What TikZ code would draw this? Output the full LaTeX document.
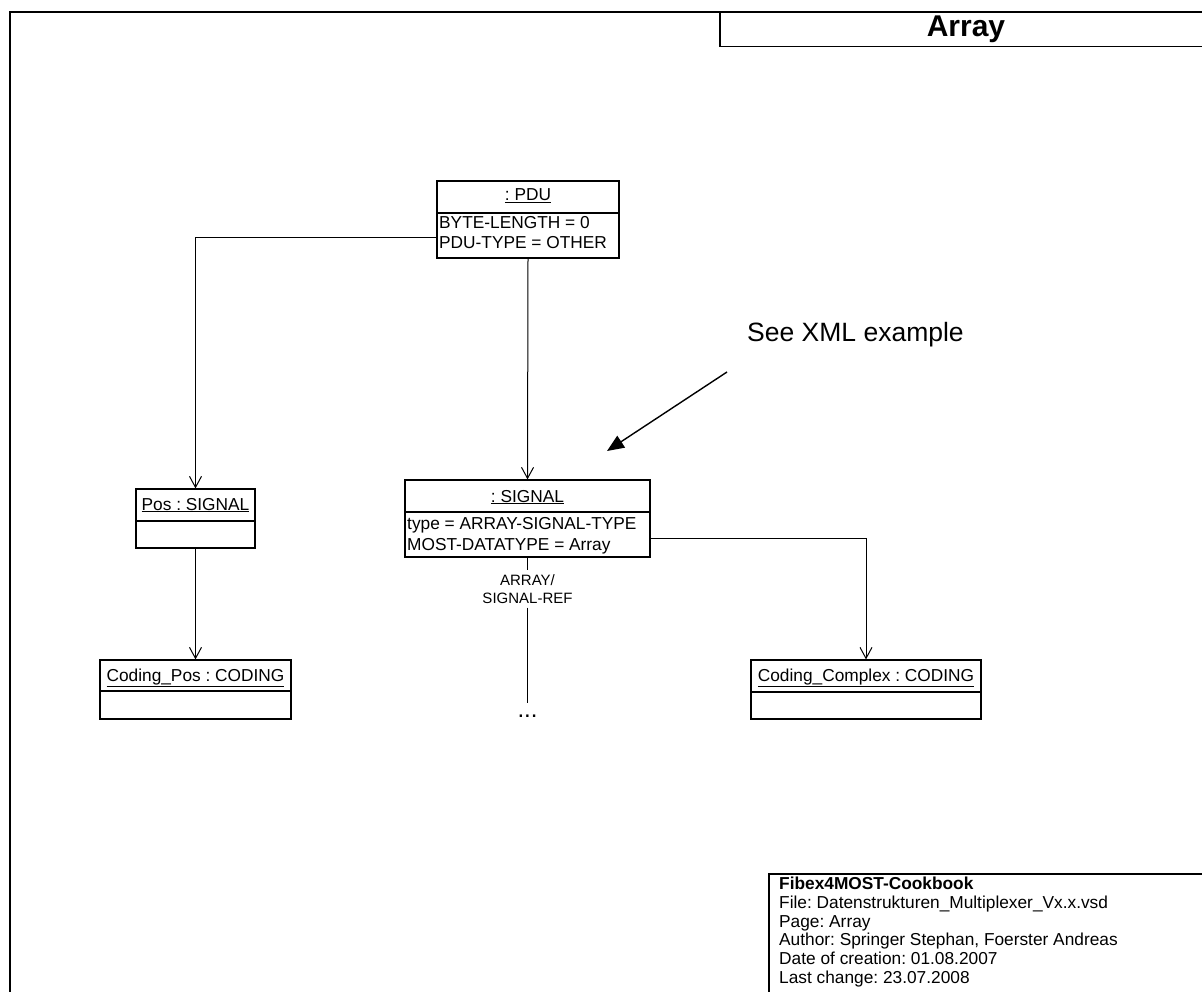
\documentclass[tikz,border=0pt]{standalone}
\usepackage{fontspec}
\setmainfont{Liberation Sans}
\usetikzlibrary{arrows.meta}
\frenchspacing

\newcommand{\fsz}[1]{\fontsize{#1}{#1}\selectfont}

\tikzset{
  objbox/.style={draw, line width=1.2pt, inner sep=0pt},
  divider/.style={line width=1.2pt},
  objtitle/.style={anchor=base, inner sep=0pt, font=\fsz{17.3}},
  attr/.style={anchor=base west, inner sep=0pt, font=\fsz{17.3}},
  conn/.style={line width=1pt, -{Straight Barb[length=11pt,width=12pt,line width=1pt]}},
  plain/.style={line width=1pt},
  frame/.style={line width=1.6pt},
  infotext/.style={anchor=base west, inner sep=0pt, font=\fsz{17.3}}
}

\begin{document}
\begin{tikzpicture}[x=1pt,y=-1pt]
\useasboundingbox (0,0) rectangle (1202,992);

% page frame and page title
\draw[frame] (10,992) -- (10,12) -- (1202,12);
\draw[line width=1.3pt] (720,12) -- (720,46.5) -- (1202,46.5);
\node[anchor=base, inner sep=0pt, font=\bfseries\fsz{30}] (pagetitle) at (966,37) {Array};

% PDU object
\node[objbox, minimum width=182pt, minimum height=77pt] (pdu) at (528,219.5) {};
\draw[divider] (pdu.west |- 0,213) -- (pdu.east |- 0,213);
\node[objtitle] (pdut) at (528,201) {\underline{: PDU}};
\node[attr] (pdua) at (439,229) {BYTE-LENGTH = 0};
\node[attr] (pdub) at (439,249) {PDU-TYPE = OTHER};

% Pos signal
\node[objbox, minimum width=119pt, minimum height=59pt] (pos) at (195.5,518.5) {};
\draw[divider] (pos.west |- 0,521) -- (pos.east |- 0,521);
\node[objtitle] (post) at (195.5,510) {\underline{Pos : SIGNAL}};

% Coding_Pos
\node[objbox, minimum width=191pt, minimum height=59pt] (cpos) at (195.5,689.5) {};
\draw[divider] (cpos.west |- 0,691) -- (cpos.east |- 0,691);
\node[objtitle] (cpost) at (195.5,681) {\underline{Coding\_Pos : CODING}};

% array signal
\node[objbox, minimum width=245pt, minimum height=77pt] (sig) at (527.5,518.5) {};
\draw[divider] (sig.west |- 0,512) -- (sig.east |- 0,512);
\node[objtitle] (sigt) at (527.5,502) {\underline{: SIGNAL}};
\node[attr] (siga) at (407,529) {type = ARRAY-SIGNAL-TYPE};
\node[attr] (sigb) at (407,550) {MOST-DATATYPE = Array};

% Coding_Complex
\node[objbox, minimum width=230pt, minimum height=59pt] (ccx) at (866,689.5) {};
\draw[divider] (ccx.west |- 0,692) -- (ccx.east |- 0,692);
\node[objtitle] (ccxt) at (866,681) {\underline{Coding\_Complex : CODING}};

% references
\draw[conn] (pdu.west |- 0,238) -| (pos.north);
\draw[conn] (pdu.south) -- (sig.north);
\draw[conn] (pos.south) -- (cpos.north);
\draw[conn] (sig.east |- 0,538) -| (ccx.north);

% ARRAY/SIGNAL-REF continuation
\node[align=center, inner sep=0pt, minimum height=37pt, font=\fontsize{15}{18}\selectfont] (aref) at (527.5,589) {ARRAY/\\SIGNAL-REF};
\node[anchor=north, inner sep=0pt, text height=14pt, text depth=0pt, font=\fsz{24}] (dots) at (527.5,703) {...};
\draw[plain] (sig.south) -- (aref.north);
\draw[plain] (aref.south) -- (dots.north);

% note with pointer
\node[anchor=base west, inner sep=0pt, font=\fsz{26.5}] (note) at (747,341.5) {See XML example};
\coordinate (noteA) at (727,372);
\coordinate (noteB) at (607,451);
\draw[line width=1.4pt, -{Triangle[length=17pt,width=14pt]}] (noteA) -- (noteB);

% document info block
\draw[line width=1.3pt] (769,992) -- (769,874) -- (1202,874);
\node[infotext, font=\bfseries\fsz{17.3}] (i1) at (779,889) {Fibex4MOST-Cookbook};
\node[infotext] (i2) at (779,908.5) {File: Datenstrukturen\_Multiplexer\_Vx.x.vsd};
\node[infotext] (i3) at (779,927) {Page: Array};
\node[infotext] (i4) at (779,945.5) {Author: Springer Stephan, Foerster Andreas};
\node[infotext] (i5) at (779,964) {Date of creation: 01.08.2007};
\node[infotext] (i6) at (779,983) {Last change: 23.07.2008};
\end{tikzpicture}
\end{document}
